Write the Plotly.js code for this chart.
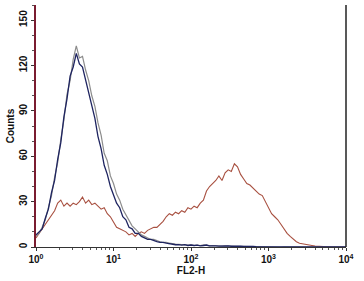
<!DOCTYPE html>
<html>
<head>
<meta charset="utf-8">
<script src="https://cdn.plot.ly/plotly-3.0.1.min.js"></script>
<style>html,body{margin:0;padding:0;background:#fff;}#chart{width:364px;height:281px;}</style>
</head>
<body>
<div id="chart"></div>
<script>
// FL2-H channel positions (log-spaced)
var fl2 = [1.000,1.096,1.202,1.318,1.445,1.585,1.738,1.905,2.089,2.291,
  2.512,2.754,3.020,3.311,3.631,3.981,4.365,4.786,5.248,5.754,
  6.310,6.918,7.586,8.318,9.120,10.00,10.96,12.02,13.18,14.45,
  15.85,17.38,19.05,20.89,22.91,25.12,27.54,30.20,33.11,36.31,
  39.81,43.65,47.86,52.48,57.54,63.10,69.18,75.86,83.18,91.20,
  100.0,109.6,120.2,131.8,144.5,158.5,173.8,190.5,208.9,229.1,
  251.2,275.4,302.0,331.1,363.1,398.1,436.5,478.6,524.8,575.4,
  631.0,691.8,758.6,831.8,912.0,1000,1096,1202,1318,1445,
  1585,1738,1905,2089,2291,2512,2754,3020,3311,3631,
  3981,4365,4786,5248,5754,6310,6918,7586,8318,9120,10000];

// Counts for each histogram
var navyCounts = [8,10,12,19,25,36,44,58,69,86,
  98,113,119,128,121,119,110,102,92,85,
  73,65,54,48,40,35,29,26,20,18,
  13,12,9,9,7,6,5,5,4,3.5,
  3,3,2.5,2,2,1.5,1.5,1.2,1.5,1,
  1.3,1,1.2,0.8,1,1.3,0.8,1,0.8,0.6,
  0.8,0.5,0.7,0.5,0.6,0.4,0.5,0.4,0.5,0.3,
  0.4,0.3,0.3,0.2,0.3,0.2,0.2,0.1,0.2,0.1,
  0.1,0,0.1,0,0,0,0,0,0,0,
  0,0,0,0,0,0,0,0,0,0,0];

var greyCounts = [7,9,13,18,26,34,46,56,71,84,
  101,110,124,133,125,126,117,110,100,93,
  82,74,62,57,47,42,35,31,25,21,
  17,14,12,10,8,7,6,5,5,4,
  3.5,3,3,2.5,2,2,1.8,1.5,1.5,1.2,
  1.4,1,1.2,1,1.4,1,0.8,1,0.7,0.8,
  0.6,0.7,0.5,0.6,0.4,0.5,0.4,0.4,0.3,0.4,
  0.3,0.2,0.3,0.2,0.2,0.1,0.2,0.1,0.1,0,
  0.1,0,0,0,0,0,0,0,0,0,
  0,0,0,0,0,0,0,0,0,0,0];

var redCounts = [6,9,12,15,18,21,24,29,31,27,
  29,27,29,28,30,33,29,31,28,29,
  27,25,26,22,20,16,13,12,11,10,
  8,9,7,9,10,9,11,12,13,13,
  15,17,20,22,21,23,22,24,23,26,
  25,27,26,29,31,37,40,42,44,47,
  44,49,51,50,55,53,48,45,42,41,
  39,37,35,34,30,25,22,20,18,15,
  12,9,7,5,3.5,2.5,2,1.5,1,1,
  0.6,0.4,0.5,0.3,0.2,0.1,0,0,0,0,0];

var xTickVals = [1,10,100,1000,10000];
var xTickText = ['10<sup>0</sup>','10<sup>1</sup>','10<sup>2</sup>','10<sup>3</sup>','10<sup>4</sup>'];
var xMinorVals = [2,3,4,5,6,7,8,9,20,30,40,50,60,70,80,90,200,300,400,500,600,700,800,900,2000,3000,4000,5000,6000,7000,8000,9000];
var yTickVals = [0,30,60,90,120,150];

var font = {family: 'Liberation Sans, Arial, sans-serif', size: 10, color: '#111', weight: 700};

var traces = [
  {x: fl2, y: redCounts, type: 'scatter', mode: 'lines', line: {color: '#a85040', width: 1.1}},
  {x: fl2, y: greyCounts, type: 'scatter', mode: 'lines', line: {color: '#8c8c8c', width: 1.2}},
  {x: fl2, y: navyCounts, type: 'scatter', mode: 'lines', line: {color: '#1e2460', width: 1.3}}
];

var layout = {
  width: 364, height: 281,
  margin: {l: 36, r: 18, t: 5, b: 34},
  paper_bgcolor: '#fff', plot_bgcolor: '#fff',
  showlegend: false,
  font: font,
  xaxis: {
    type: 'log', range: [0, 4],
    tickmode: 'array', tickvals: xTickVals, ticktext: xTickText,
    ticks: 'outside', ticklen: 3, tickcolor: '#333',
    minor: {tickmode: 'array', tickvals: xMinorVals, ticks: 'outside', ticklen: 2, tickcolor: '#555'},
    showgrid: false, zeroline: false,
    showline: true, linecolor: '#333', linewidth: 1,
    tickfont: {family: font.family, size: 10, color: '#111', weight: 700},
    title: {text: 'FL2-H', font: {family: font.family, size: 10, color: '#111', weight: 700}, standoff: 1}
  },
  yaxis: {
    range: [0, 160],
    tickmode: 'array', tickvals: yTickVals,
    ticks: 'outside', ticklen: 3, tickcolor: '#333',
    minor: {dtick: 10, ticks: 'outside', ticklen: 2, tickcolor: '#555'},
    tickangle: -90,
    showgrid: false, zeroline: false,
    showline: true, linecolor: '#7a1c30', linewidth: 2,
    tickfont: {family: font.family, size: 10, color: '#111', weight: 700},
    title: {text: 'Counts', font: {family: font.family, size: 10, color: '#111', weight: 700}, standoff: 2}
  },
  shapes: [
    {type: 'line', xref: 'paper', yref: 'paper', x0: 1, x1: 1, y0: 0, y1: 1, line: {color: '#222', width: 1.5}}
  ]
};

Plotly.newPlot('chart', traces, layout, {staticPlot: true, displayModeBar: false});
</script>
</body>
</html>
